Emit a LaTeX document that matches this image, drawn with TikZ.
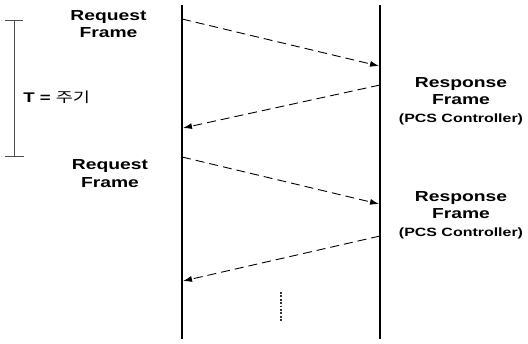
\documentclass[tikz,border=0pt]{standalone}
\usepackage{fontspec}
\setmainfont{Liberation Sans}
\newfontfamily\krfont{Noto Sans CJK KR}
\usetikzlibrary{arrows.meta}
\begin{document}
\begin{tikzpicture}[x=1pt,y=-1pt,
  life/.style={line width=2.4pt},
  msg/.style={line width=0.9pt, dash pattern=on 9pt off 5pt, -{Latex[length=9pt,width=6pt]}},
  lbl/.style={font=\bfseries\fontsize{14.5}{17.5}\selectfont, align=center, xscale=1.33, inner sep=0pt},
  sub/.style={font=\bfseries\fontsize{12}{14}\selectfont}]
\useasboundingbox (0,0) rectangle (528,344);
% lifelines
\coordinate (Lt) at (182,5); \coordinate (Lb) at (182,339);
\coordinate (Rt) at (380,5); \coordinate (Rb) at (380,339);
\draw[life] (Lt) -- (Lb);
\draw[life] (Rt) -- (Rb);
% message endpoints
\coordinate (a1) at (182,19); \coordinate (b1) at (379,66);
\coordinate (a2) at (380,85); \coordinate (b2) at (183,128);
\coordinate (a3) at (182,157); \coordinate (b3) at (379,204);
\coordinate (a4) at (380,236); \coordinate (b4) at (183,281);
\draw[msg] (a1) -- (b1);
\draw[msg] (a2) -- (b2);
\draw[msg] (a3) -- (b3);
\draw[msg] (a4) -- (b4);
% dotted continuation
\coordinate (d1) at (281,292); \coordinate (d2) at (281,322);
\draw[line width=1.3pt, black!80, dash pattern=on 1.8pt off 1.6pt] (d1) -- (d2);
% period bracket
\coordinate (p1) at (14,20); \coordinate (p2) at (14,156);
\draw[line width=0.9pt, gray!60!black] (p1) -- (p2);
\draw[line width=0.9pt, gray!60!black] (5,20) -- (23,20);
\draw[line width=0.9pt, gray!60!black] (5,156) -- (24,156);
\node[anchor=west, inner sep=0pt, xscale=1.33] (T) at (23,97) {\bfseries\fontsize{14}{16}\selectfont T = {\krfont\mdseries 주기}};
% labels
\node[lbl] (req1) at (108.5,24) {Request\\Frame};
\node[lbl] (req2) at (110,173.5) {Request\\Frame};
\node[lbl] (res1) at (461,101) {Response\\Frame\\{\fontsize{12}{14}\selectfont(PCS Controller)}};
\node[lbl] (res2) at (461,215) {Response\\Frame\\{\fontsize{12}{14}\selectfont(PCS Controller)}};
\end{tikzpicture}
\end{document}
